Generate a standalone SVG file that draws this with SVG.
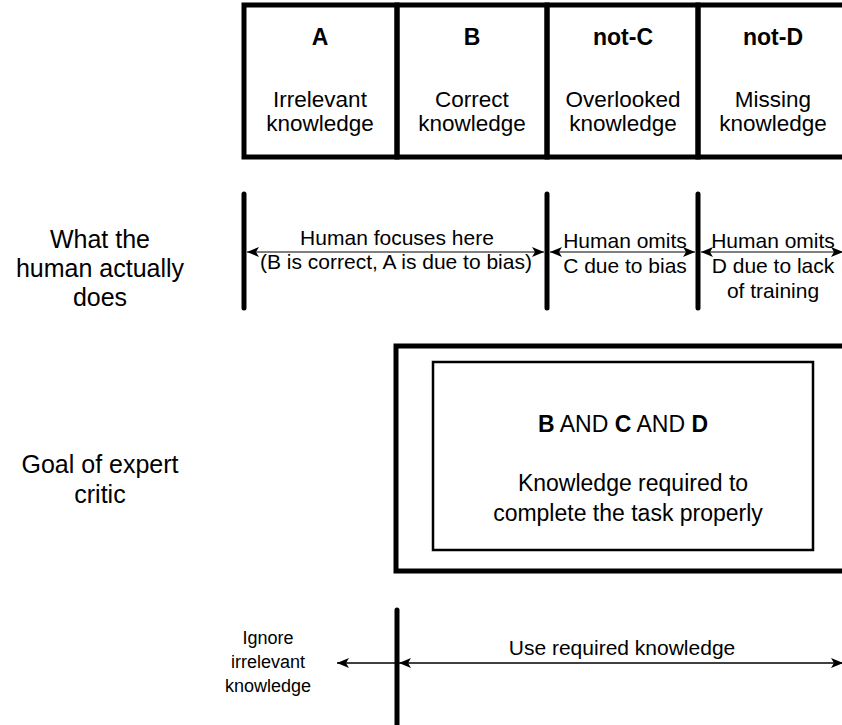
<svg xmlns="http://www.w3.org/2000/svg" width="842" height="725" viewBox="0 0 842 725">
<style>
text{font-family:"Liberation Sans",Arial,sans-serif;fill:#000;text-anchor:middle}
.hdr{font-size:23px;font-weight:bold}
.lbl{font-size:22.5px}
.side{font-size:25px}
.row2{font-size:21px}
.small{font-size:18px}
.box{font-size:23px}
.bar{stroke:#000;stroke-width:5;stroke-linecap:round}
.thick{fill:none;stroke:#000;stroke-width:5}
.thin{fill:none;stroke:#000;stroke-width:2.5}
.arr{stroke:#555;stroke-width:1.5;fill:none}
.arrb{stroke:#000;stroke-width:1.3;fill:none}
</style>
<defs>
<marker id="ah" markerUnits="userSpaceOnUse" markerWidth="13" markerHeight="10" refX="12" refY="5" orient="auto-start-reverse">
<path d="M0,0 L12,5 L0,10 L3,5 z" fill="#000"/>
</marker>
</defs>
<rect width="842" height="725" fill="#fff"/>

<g id="cells">
<g id="cellA">
<rect x="244" y="5" width="153" height="152" class="thick"/>
<text x="320" y="45" class="hdr">A</text>
<text x="320" y="107" class="lbl">Irrelevant</text>
<text x="320" y="131" class="lbl">knowledge</text>
</g>
<g id="cellB">
<rect x="397" y="5" width="150" height="152" class="thick"/>
<text x="472" y="45" class="hdr">B</text>
<text x="472" y="107" class="lbl">Correct</text>
<text x="472" y="131" class="lbl">knowledge</text>
</g>
<g id="cellC">
<rect x="547" y="5" width="151" height="152" class="thick"/>
<text x="623" y="45" class="hdr">not-C</text>
<text x="623" y="107" class="lbl">Overlooked</text>
<text x="623" y="131" class="lbl">knowledge</text>
</g>
<g id="cellD">
<rect x="698" y="5" width="152" height="152" class="thick"/>
<text x="773" y="45" class="hdr">not-D</text>
<text x="773" y="107" class="lbl">Missing</text>
<text x="773" y="131" class="lbl">knowledge</text>
</g>
</g>

<g id="side-labels">
<g id="label-human">
<text x="100" y="248" class="side">What the</text>
<text x="100" y="277" class="side">human actually</text>
<text x="100" y="306" class="side">does</text>
</g>
<g id="label-goal">
<text x="100" y="473" class="side">Goal of expert</text>
<text x="100" y="503" class="side">critic</text>
</g>
</g>

<g id="bars">
<line x1="244" y1="194" x2="244" y2="308" class="bar"/>
<line x1="547" y1="194" x2="547" y2="308" class="bar"/>
<line x1="698" y1="194" x2="698" y2="308" class="bar"/>
<line x1="397" y1="610" x2="397" y2="730" class="bar"/>
</g>

<g id="connectors">
<line x1="247" y1="252" x2="544" y2="252" class="arr" marker-start="url(#ah)" marker-end="url(#ah)"/>
<line x1="550" y1="252" x2="695" y2="252" class="arr" marker-start="url(#ah)" marker-end="url(#ah)"/>
<line x1="701" y1="252" x2="843" y2="252" class="arr" marker-start="url(#ah)" marker-end="url(#ah)"/>
<line x1="397" y1="663" x2="337" y2="663" class="arrb" marker-end="url(#ah)"/>
<line x1="399" y1="663" x2="843" y2="663" class="arrb" marker-start="url(#ah)" marker-end="url(#ah)"/>
</g>

<g id="row2-texts">
<g id="focus">
<text x="397" y="245" class="row2">Human focuses here</text>
<text x="396" y="269" class="row2">(B is correct, A is due to bias)</text>
</g>
<g id="omitC">
<text x="625" y="248" class="row2">Human omits</text>
<text x="625" y="273" class="row2">C due to bias</text>
</g>
<g id="omitD">
<text x="773" y="248" class="row2">Human omits</text>
<text x="773" y="273" class="row2">D due to lack</text>
<text x="773" y="298" class="row2">of training</text>
</g>
</g>

<g id="goal">
<rect x="396" y="346" width="460" height="225" class="thick"/>
<g id="required">
<rect x="433" y="362" width="380" height="188" class="thin"/>
<text x="623" y="432" class="box"><tspan font-weight="bold">B</tspan> AND <tspan font-weight="bold">C</tspan> AND <tspan font-weight="bold">D</tspan></text>
<text x="633" y="491" class="box">Knowledge required to</text>
<text x="628" y="521" class="box">complete the task properly</text>
</g>
</g>

<g id="bottom-texts">
<g id="ignore">
<text x="268" y="644" class="small">Ignore</text>
<text x="268" y="668" class="small">irrelevant</text>
<text x="268" y="692" class="small">knowledge</text>
</g>
<text id="use" x="622" y="655" class="row2">Use required knowledge</text>
</g>
</svg>
